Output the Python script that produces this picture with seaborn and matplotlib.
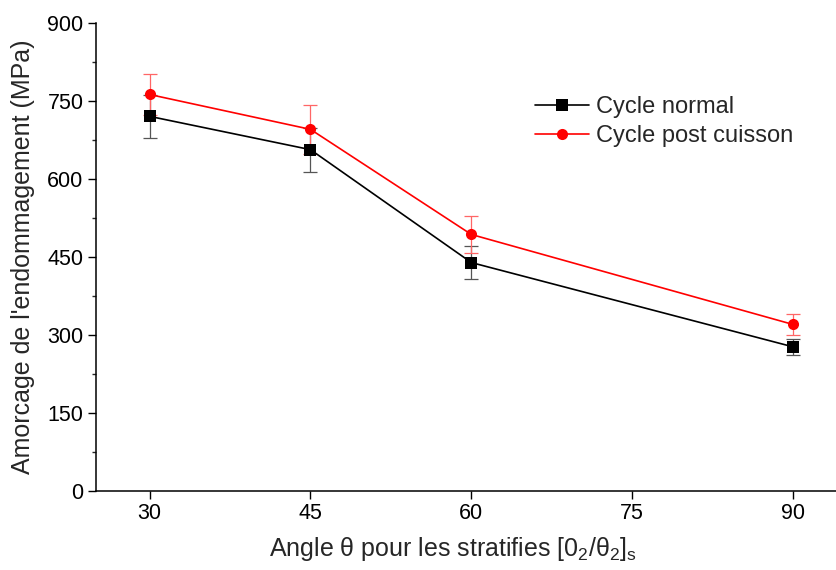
import numpy as np
import matplotlib
matplotlib.use("Agg")
import matplotlib.pyplot as plt
import seaborn as sns
import pandas as pd
from matplotlib.ticker import MultipleLocator

angles = [30, 45, 60, 90]
normal = [720, 656, 439, 277]
normal_err = [41, 42, 31, 16]
post = [762, 695, 493, 320]
post_err = [40, 47, 36, 20]

sns.set_style("ticks")
plt.rcParams['font.family'] = ['Liberation Sans', 'DejaVu Sans']
plt.rcParams['mathtext.fontset'] = 'custom'
plt.rcParams['mathtext.rm'] = 'Liberation Sans'

df = pd.DataFrame({
    "angle": angles * 2,
    "value": normal + post,
    "serie": ["Cycle normal"] * 4 + ["Cycle post cuisson"] * 4,
})

fig = plt.figure(figsize=(8.36, 5.70), dpi=100)
ax = fig.add_axes([0.1148, 0.1386, 0.8852, 0.8216])

# error bars first, markers on top
ax.errorbar(angles, normal, yerr=normal_err, fmt='none', ecolor='#555555',
            elinewidth=0.9, capsize=5, capthick=0.9, zorder=2)
ax.errorbar(angles, post, yerr=post_err, fmt='none', ecolor='#ff6666',
            elinewidth=0.9, capsize=5, capthick=0.9, zorder=2)

sns.lineplot(data=df, x="angle", y="value", hue="serie", style="serie",
             palette={"Cycle normal": "black", "Cycle post cuisson": "red"},
             markers={"Cycle normal": "s", "Cycle post cuisson": "o"},
             dashes=False, markersize=8, markeredgewidth=0, linewidth=1.2,
             ax=ax, zorder=3)

ax.set_xlim(25, 94)
ax.set_ylim(0, 900)
ax.xaxis.set_major_locator(MultipleLocator(15))
ax.yaxis.set_major_locator(MultipleLocator(150))
ax.yaxis.set_minor_locator(MultipleLocator(75))
ax.tick_params(axis='both', which='major', direction='out', length=6, width=1,
               labelsize=15.5, color='black', labelcolor='black', pad=3)
ax.tick_params(axis='y', which='minor', direction='out', length=3, width=1)
for s in ['top', 'right']:
    ax.spines[s].set_visible(False)
for s in ['left', 'bottom']:
    ax.spines[s].set_linewidth(1.1)
    ax.spines[s].set_color('black')

ax.set_xlabel("Angle θ pour les stratifies [0$_\\mathregular{2}$/θ$_\\mathregular{2}$]$_\\mathregular{s}$",
              fontsize=18)
ax.set_ylabel("Amorcage de l'endommagement (MPa)", fontsize=18)
ax.xaxis.set_label_coords(0.482, -0.095)
ax.yaxis.set_label_coords(-0.083, 0.5)

handles, labels = ax.get_legend_handles_labels()
ax.legend(handles, labels, loc='upper left', bbox_to_anchor=(0.593, 0.843),
          frameon=False, fontsize=17, handlelength=2.3, handletextpad=0.3,
          labelspacing=0.3, borderpad=0, borderaxespad=0)

fig.savefig("out.png", dpi=100)
